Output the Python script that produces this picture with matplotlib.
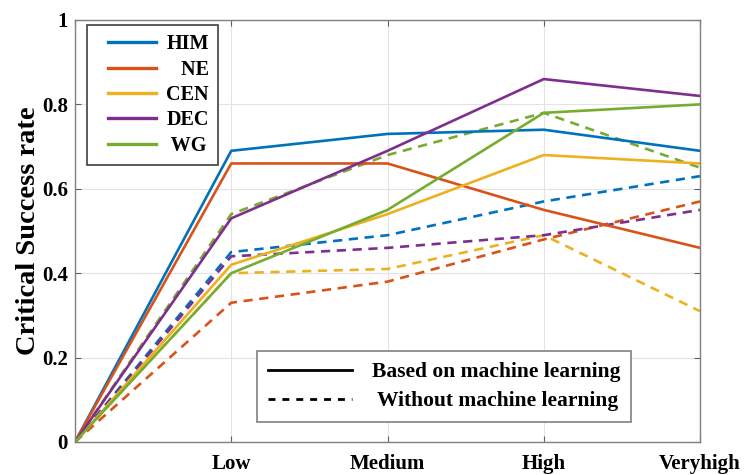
import matplotlib
matplotlib.use('Agg')
import matplotlib.pyplot as plt
from matplotlib.lines import Line2D
from matplotlib.legend_handler import HandlerLine2D

plt.rcParams['font.family'] = ['Liberation Serif', 'DejaVu Serif']
plt.rcParams['font.weight'] = 'bold'

# 数据
x_pos = [0, 1, 2, 3, 4]
x_labels = ['', 'Low', 'Medium', 'High', 'Veryhigh']
regions = ['HIM', 'NE', 'CEN', 'DEC', 'WG']
region_labels = ['HIM', '   NE', 'CEN', 'DEC', ' WG']
colors = ['#0072BD', '#D95319', '#EDB120', '#7E2F8E', '#77AC30']

# 基于机器学习
him_ml = [0, 0.69, 0.73, 0.74, 0.69]
ne_ml = [0, 0.66, 0.66, 0.55, 0.46]
cen_ml = [0, 0.42, 0.54, 0.68, 0.66]
dec_ml = [0, 0.53, 0.69, 0.86, 0.82]
wg_ml = [0, 0.40, 0.55, 0.78, 0.80]

# 不用机器学习
him_no = [0, 0.45, 0.49, 0.57, 0.63]
ne_no = [0, 0.33, 0.38, 0.48, 0.57]
cen_no = [0, 0.40, 0.41, 0.49, 0.31]
dec_no = [0, 0.44, 0.46, 0.49, 0.55]
wg_no = [0, 0.54, 0.68, 0.78, 0.65]

ml_series = [him_ml, ne_ml, cen_ml, dec_ml, wg_ml]
no_series = [him_no, ne_no, cen_no, dec_no, wg_no]

fig = plt.figure(figsize=(7.47, 4.75), dpi=100)
ax = fig.add_axes([0.1004, 0.0695, 0.8367, 0.8884])

dash = (0, (3.5, 2.5))
for ys, c in zip(no_series, colors):
    ax.plot(x_pos, ys, color=c, linewidth=1.9, linestyle=dash)
for ys, c in zip(ml_series, colors):
    ax.plot(x_pos, ys, color=c, linewidth=1.9)

ax.set_xlim(0, 4)
ax.set_ylim(0, 1)
ax.set_xticks(x_pos)
ax.set_xticklabels(x_labels)
ax.set_yticks([0, 0.2, 0.4, 0.6, 0.8, 1])
ax.set_yticklabels(['0', '0.2', '0.4', '0.6', '0.8', '1'])
ax.tick_params(axis='both', direction='in', length=4, width=0.8, color='#606060',
               labelsize=15, top=True, right=True)
ax.tick_params(axis='x', pad=8.5)
ax.tick_params(axis='y', pad=5)
ax.grid(True, color='#e3e3e3', linewidth=0.8)
ax.set_axisbelow(True)
for s in ax.spines.values():
    s.set_color('#808080')
    s.set_linewidth(1.0)

ax.set_ylabel('Critical Success rate', fontsize=20.5, fontweight='bold', labelpad=1)

# 图例1：区域
h1 = [Line2D([0], [0], color=c, linewidth=2.4) for c in colors]
leg1 = ax.legend(h1, region_labels, loc='upper left', bbox_to_anchor=(0.019, 0.988),
                 borderaxespad=0, fontsize=14.5, handlelength=3.0, labelspacing=0.27,
                 handletextpad=0.5, borderpad=0.45, fancybox=False, framealpha=1,
                 edgecolor='#404040', handler_map={Line2D: HandlerLine2D(xpad=0.6)})
leg1.get_frame().set_linewidth(1.2)
ax.add_artist(leg1)

# 图例2：方法
h2 = [Line2D([0], [0], color='black', linewidth=2.0),
      Line2D([0], [0], color='black', linewidth=2.0, linestyle=(0, (2.5, 2.5)))]
leg2 = ax.legend(h2, ['Based on machine learning', ' Without machine learning'],
                 loc='lower left', bbox_to_anchor=(0.291, 0.047), borderaxespad=0,
                 fontsize=15.5, handlelength=3.9, labelspacing=0.42, handletextpad=0.95,
                 borderpad=0.5, fancybox=False, framealpha=1, edgecolor='#808080')
leg2.get_frame().set_linewidth(1.2)

fig.savefig('out.png', dpi=100)
